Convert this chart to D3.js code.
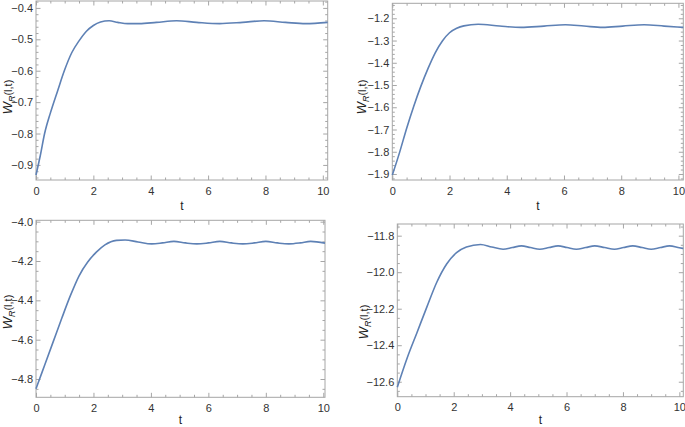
<!DOCTYPE html>
<html>
<head>
<meta charset="utf-8">
<script src="https://cdn.jsdelivr.net/npm/d3@7/dist/d3.min.js"></script>
<style>
  html, body { margin: 0; padding: 0; background: #fff; }
  svg { display: block; }
  text { font-family: "Liberation Sans", Arial, sans-serif; }
</style>
</head>
<body>
<svg id="chart" width="685" height="427"></svg>
<script>
// ---------- data ----------
const t1 = [0, 0.15, 0.3, 0.5, 0.75, 1.0, 1.25, 1.5, 1.75, 2.0, 2.25, 2.55, 2.85, 3.2, 3.6, 4.2, 4.9, 5.6, 6.4, 7.2, 7.95, 8.7, 9.4, 10.17];
const w1 = [-0.932, -0.870, -0.800, -0.735, -0.665, -0.597, -0.542, -0.505, -0.475, -0.456, -0.445, -0.441, -0.446, -0.450, -0.450, -0.446, -0.441, -0.446, -0.450, -0.446, -0.441, -0.446, -0.450, -0.446];

const t2 = [0, 0.25, 0.5, 0.75, 1.0, 1.25, 1.5, 1.75, 2.0, 2.25, 2.5, 3.0, 3.75, 4.5, 5.3, 6.05, 6.7, 7.35, 8.05, 8.8, 9.5, 10.17];
const w2 = [-1.905, -1.805, -1.695, -1.595, -1.505, -1.425, -1.355, -1.302, -1.265, -1.245, -1.234, -1.227, -1.235, -1.241, -1.235, -1.229, -1.235, -1.241, -1.235, -1.229, -1.235, -1.241];

const t3 = [0, 0.3, 0.6, 0.9, 1.2, 1.5, 1.8, 2.1, 2.4, 2.8, 3.1, 3.55, 4.03, 4.4, 4.8, 5.2, 5.6, 6.0, 6.4, 6.8, 7.2, 7.6, 8.0, 8.4, 8.8, 9.2, 9.56, 10.06];
const w3 = [-4.850, -4.730, -4.610, -4.490, -4.375, -4.275, -4.205, -4.155, -4.118, -4.095, -4.093, -4.103, -4.113, -4.108, -4.100, -4.108, -4.113, -4.108, -4.100, -4.108, -4.113, -4.108, -4.100, -4.108, -4.113, -4.108, -4.100, -4.109];

const t4 = [0, 0.35, 0.7, 1.05, 1.4, 1.75, 2.1, 2.45, 2.95, 3.35, 3.75, 4.08, 4.4, 4.72, 5.05, 5.38, 5.7, 6.02, 6.35, 6.68, 7.0, 7.35, 7.7, 8.02, 8.35, 8.68, 9.0, 9.33, 9.65, 10.0, 10.14];
const w4 = [-12.630, -12.470, -12.330, -12.190, -12.055, -11.955, -11.893, -11.862, -11.848, -11.862, -11.874, -11.865, -11.856, -11.865, -11.874, -11.865, -11.856, -11.865, -11.874, -11.865, -11.856, -11.865, -11.874, -11.865, -11.856, -11.865, -11.874, -11.865, -11.856, -11.866, -11.870];

// tick labels
const xTicks = [0, 2, 4, 6, 8, 10];
const yTicks1 = [-0.9, -0.8, -0.7, -0.6, -0.5, -0.4];
const yTicks2 = [-1.9, -1.8, -1.7, -1.6, -1.5, -1.4, -1.3, -1.2];
const yTicks3 = [-4.8, -4.6, -4.4, -4.2, -4.0];
const yTicks4 = [-12.6, -12.4, -12.2, -12.0, -11.8];

// ---------- layout ----------
const panels = [
  { t: t1, w: w1, yt: yTicks1, ydom: [-0.948, -0.378], xdom: [0, 10.17], minorY: 0.02,
    box: { l: 36, t: 1, r: 327.7, b: 180 }, ylabX: 12, ylabY: 97, xlabY: 210 },
  { t: t2, w: w2, yt: yTicks2, ydom: [-1.927, -1.1326], xdom: [0, 10.17], minorY: 0.02,
    box: { l: 392.3, t: 3.3, r: 683.3, b: 180 }, ylabX: 366, ylabY: 97, xlabY: 210 },
  { t: t3, w: w3, yt: yTicks3, ydom: [-4.893, -3.993], xdom: [0, 10.06], minorY: 0.05,
    box: { l: 36, t: 220.3, r: 325, b: 397.3 }, ylabX: 11.5, ylabY: 312, xlabY: 424 },
  { t: t4, w: w4, yt: yTicks4, ydom: [-12.682, -11.736], xdom: [0, 10.14], minorY: 0.05,
    box: { l: 397.3, t: 224, r: 683.3, b: 396.7 }, ylabX: 368, ylabY: 322, xlabY: 424 }
];

const svg = d3.select("#chart");
const frameColor = "#a6a6a6";
const lineColor = "rgb(94,129,181)";
const fmt = d3.format(".1f");
const minus = s => s.replace("-", "\u2212");

function range(a, b, step) {
  const out = [];
  const n = Math.round((b - a) / step);
  for (let i = 0; i <= n; i++) out.push(+(a + i * step).toFixed(6));
  return out;
}

panels.forEach(p => {
  const B = p.box;
  const x = d3.scaleLinear().domain(p.xdom).range([B.l, B.r]);
  const y = d3.scaleLinear().domain(p.ydom).range([B.b, B.t]);
  const g = svg.append("g");

  const xMinor = range(0, Math.floor(p.xdom[1] * 2) / 2, 0.5).filter(v => v % 2 !== 0);
  const y0 = Math.ceil(p.ydom[0] / p.minorY) * p.minorY;
  const yMinor = range(y0, p.ydom[1], p.minorY)
    .filter(v => !p.yt.some(t => Math.abs(t - v) < 1e-6));

  const H = B.b - B.t, W = B.r - B.l;
  const major = 4.5, minorLen = 2.5;

  function styleAxis(sel, withText) {
    sel.select(".domain").remove();
    sel.selectAll(".tick line").attr("stroke", frameColor).attr("stroke-width", 1);
    if (!withText) sel.selectAll(".tick text").remove();
    else sel.selectAll(".tick text").attr("fill", "#333").attr("font-size", 11)
      .attr("font-family", "'Liberation Sans', Arial, sans-serif");
  }

  // bottom
  g.append("g").attr("transform", `translate(0,${B.b})`)
    .call(d3.axisBottom(x).tickValues(xTicks).tickSize(-major).tickPadding(7).tickFormat(d3.format("d")))
    .call(s => styleAxis(s, true));
  g.append("g").attr("transform", `translate(0,${B.b})`)
    .call(d3.axisBottom(x).tickValues(xMinor).tickSize(-minorLen).tickFormat(""))
    .call(s => styleAxis(s, false));
  // top
  g.append("g").attr("transform", `translate(0,${B.t})`)
    .call(d3.axisTop(x).tickValues(xTicks).tickSize(-major).tickFormat(""))
    .call(s => styleAxis(s, false));
  g.append("g").attr("transform", `translate(0,${B.t})`)
    .call(d3.axisTop(x).tickValues(xMinor).tickSize(-minorLen).tickFormat(""))
    .call(s => styleAxis(s, false));
  // left
  g.append("g").attr("transform", `translate(${B.l},0)`)
    .call(d3.axisLeft(y).tickValues(p.yt).tickSize(-major).tickPadding(3).tickFormat(d => minus(fmt(d))))
    .call(s => styleAxis(s, true));
  g.append("g").attr("transform", `translate(${B.l},0)`)
    .call(d3.axisLeft(y).tickValues(yMinor).tickSize(-minorLen).tickFormat(""))
    .call(s => styleAxis(s, false));
  // right
  g.append("g").attr("transform", `translate(${B.r},0)`)
    .call(d3.axisRight(y).tickValues(p.yt).tickSize(-major).tickFormat(""))
    .call(s => styleAxis(s, false));
  g.append("g").attr("transform", `translate(${B.r},0)`)
    .call(d3.axisRight(y).tickValues(yMinor).tickSize(-minorLen).tickFormat(""))
    .call(s => styleAxis(s, false));

  // frame
  g.append("rect").attr("x", B.l).attr("y", B.t).attr("width", W).attr("height", H)
    .attr("fill", "none").attr("stroke", frameColor).attr("stroke-width", 1);

  // curve
  const pts = p.t.map((tv, i) => [tv, p.w[i]]);
  g.append("path").datum(pts)
    .attr("d", d3.line().x(d => x(d[0])).y(d => y(d[1])).curve(d3.curveMonotoneX))
    .attr("fill", "none").attr("stroke", lineColor).attr("stroke-width", 1.6);

  // x label
  g.append("text").attr("x", (B.l + B.r) / 2).attr("y", p.xlabY)
    .attr("text-anchor", "middle").attr("font-size", 12).attr("fill", "#222").text("t");

  // y label
  const yl = g.append("text")
    .attr("transform", `translate(${p.ylabX},${p.ylabY}) rotate(-90)`)
    .attr("text-anchor", "middle")
    .attr("font-size", 13).attr("fill", "#222");
  yl.append("tspan").attr("font-style", "italic").text("W");
  yl.append("tspan").attr("font-style", "italic").attr("font-size", 9).attr("dy", 3).text("R");
  yl.append("tspan").attr("dy", -3).attr("font-size", 11).text("(l,t)");
});
</script>
</body>
</html>
